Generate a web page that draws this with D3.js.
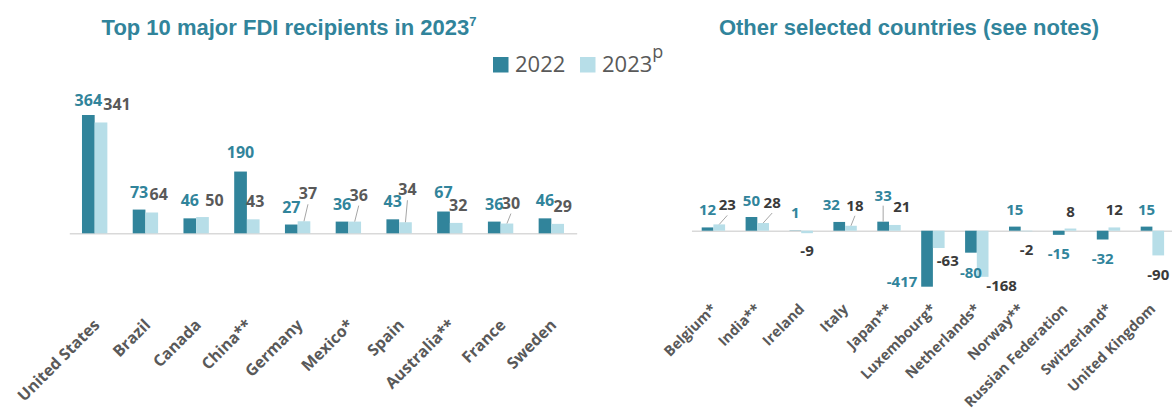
<!DOCTYPE html>
<html>
<head>
<meta charset="utf-8">
<script src="https://cdn.jsdelivr.net/npm/d3@7"></script>
<style>
    body { margin: 0; background: #fff; }
    svg text { font-family: "Open Sans", sans-serif; }
</style>
</head>
<body>
<div id="chartDiv"></div>
<script>
// series
const seriesKeys = ['2022', '2023'];

// left panel: top 10 recipients (USD billion)
const topCountries = ['United States', 'Brazil', 'Canada', 'China**', 'Germany', 'Mexico*', 'Spain', 'Australia**', 'France', 'Sweden'];
const top2022 = [364, 73, 46, 190, 27, 36, 43, 67, 36, 46];
const top2023 = [341, 64, 50, 43, 37, 36, 34, 32, 30, 29];

// right panel: other selected countries
const otherCountries = ['Belgium*', 'India**', 'Ireland', 'Italy', 'Japan**', 'Luxembourg*', 'Netherlands*', 'Norway**', 'Russian Federation', 'Switzerland*', 'United Kingdom'];
const other2022 = [12, 50, 1, 32, 33, -417, -80, 15, -15, -32, 15];
const other2023 = [23, 28, -9, 18, 21, -63, -168, -2, 8, 12, -90];

// labels that were dragged by hand in the original: [dx, dy, leader line]
const topNudge2022 = [[0, 3], [0, 0], [0, 0], [0, -2], [0, 0], [0, 0], [0, 0], [0, -2], [0, 0], [0, 0]];
const topNudge2023 = [[16, 0], [7, -1], [12, 1], [2, 0], [4, -10, 1], [4, -9, 1], [2, -15, 1], [2, 0], [4, -3, 1], [5, 0]];
const otherNudge2022 = [[0, 0], [0, 1], [0, 0], [-8, 0], [0, -9, 1], [-25, -24], [0, 1], [0, 0], [0, 0], [0, 0], [0, 0]];
const otherNudge2023 = [[8, -2, 1], [9, -3, 1], [0, -1], [4, -3, 1], [7, -1], [9, -6], [19, -10], [0, 0], [0, 0], [0, 0], [0, 1]];

const colors = {'2022': '#31849b', '2023': '#b7dee8'};
const teal = '#31849b';

const width = 1172, height = 410;

let svg = d3.select('#chartDiv').append('svg')
    .attr('width', width)
    .attr('height', height);

function drawPanel(opt) {
    let g = svg.append('g');

    let x0 = d3.scaleBand()
        .domain(opt.cats)
        .range(opt.xRange);

    let x1 = d3.scaleBand()
        .domain(seriesKeys)
        .range([0, x0.bandwidth()])
        .paddingOuter(opt.outer);

    let y = d3.scaleLinear()
        .domain(opt.yDomain)
        .range(opt.yRange)
        .clamp(true);

    let rows = opt.cats.map((c, i) => ({
        name: c,
        values: [
            {key: '2022', value: opt.v2022[i], nudge: opt.n2022[i]},
            {key: '2023', value: opt.v2023[i], nudge: opt.n2023[i]}
        ]
    }));

    // baseline
    g.append('g')
        .attr('transform', `translate(0, ${y(0)})`)
        .call(d3.axisBottom(x0).tickSize(0).tickFormat(''))
        .call(a => a.select('.domain').attr('stroke', '#d9d9d9').attr('stroke-width', 1.5));

    let cat = g.selectAll('g.cat')
        .data(rows)
        .enter()
        .append('g')
        .attr('class', 'cat')
        .attr('transform', d => `translate(${x0(d.name)}, 0)`);

    cat.selectAll('rect')
        .data(d => d.values)
        .enter()
        .append('rect')
        .attr('x', d => x1(d.key))
        .attr('width', x1.bandwidth())
        .attr('y', d => Math.min(y(d.value), y(0)))
        .attr('height', d => Math.abs(y(d.value) - y(0)))
        .style('fill', d => colors[d.key]);

    // value labels
    const lx = d => x1(d.key) + x1.bandwidth() / 2 + d.nudge[0];
    const ly = d => (d.value >= 0 ? y(d.value) - 12 : y(d.value) + opt.negGap) + d.nudge[1];

    cat.selectAll('line.leader')
        .data(d => d.values.filter(v => v.nudge[2]))
        .enter()
        .append('line')
        .attr('class', 'leader')
        .attr('x1', d => x1(d.key) + x1.bandwidth() / 2)
        .attr('y1', d => y(d.value))
        .attr('x2', lx)
        .attr('y2', d => ly(d) + 5)
        .attr('stroke', '#a6a6a6')
        .attr('stroke-width', 1);

    cat.selectAll('text.valueLabel')
        .data(d => d.values)
        .enter()
        .append('text')
        .attr('class', 'valueLabel')
        .attr('x', lx)
        .attr('y', ly)
        .style('text-anchor', 'middle')
        .style('font-size', opt.valueSize + 'px')
        .style('font-weight', 700)
        .style('fill', d => d.key === '2022' ? teal : opt.valueGrey)
        .text(d => d.value);

    // category labels, rotated
    g.selectAll('text.label')
        .data(opt.cats)
        .enter()
        .append('text')
        .attr('class', 'label')
        .attr('transform', d => `translate(${x0(d) + x0.bandwidth() / 2 + opt.labelDx}, ${opt.labelY}) rotate(-45)`)
        .style('text-anchor', 'end')
        .style('font-size', opt.labelSize + 'px')
        .style('font-weight', 700)
        .style('fill', '#595959')
        .text(d => d);

    // title
    let title = g.append('text')
        .attr('x', opt.titleX)
        .attr('y', 35)
        .style('text-anchor', 'middle')
        .style('font-family', '"Liberation Sans", Arial, sans-serif')
        .style('font-size', '22px')
        .style('font-weight', 700)
        .style('fill', teal)
        .text(opt.title);
    if (opt.titleSup) {
        title.append('tspan')
            .attr('dy', -9)
            .style('font-size', '13px')
            .text(opt.titleSup);
    }
}

drawPanel({
    cats: topCountries, v2022: top2022, v2023: top2023,
    n2022: topNudge2022, n2023: topNudge2023,
    xRange: [69.3, 576.7], outer: 1,
    yDomain: [0, 400], yRange: [233.3, 103.3],
    valueSize: 16, valueGrey: '#595959', negGap: 24,
    labelDx: 6, labelY: 326, labelSize: 16,
    title: 'Top 10 major FDI recipients in 2023', titleSup: '7', titleX: 289
});

drawPanel({
    cats: otherCountries, v2022: other2022, v2023: other2023,
    n2022: otherNudge2022, n2023: otherNudge2023,
    xRange: [691.45, 1174.35], outer: 0.876,
    yDomain: [-204, 60], yRange: [286.7, 214.26],
    valueSize: 15, valueGrey: '#3a3a3a', negGap: 24,
    labelDx: 4, labelY: 310, labelSize: 14.5,
    title: 'Other selected countries (see notes)', titleSup: null, titleX: 909
});

// legend
let legend = svg.append('g').attr('transform', 'translate(493, 0)');
let items = [
    {key: '2022', text: '2022', sup: null, x: 0},
    {key: '2023', text: '2023', sup: 'p', x: 87}
];
let li = legend.selectAll('g')
    .data(items)
    .enter()
    .append('g')
    .attr('transform', d => `translate(${d.x}, 0)`);
li.append('rect')
    .attr('y', 57)
    .attr('width', 15.5)
    .attr('height', 15.5)
    .style('fill', d => colors[d.key]);
let lt = li.append('text')
    .attr('x', 22)
    .attr('y', 72)
    .style('font-size', '22px')
    .style('fill', '#595959')
    .text(d => d.text);
lt.filter(d => d.sup)
    .append('tspan')
    .attr('dy', -14)
    .style('font-size', '18px')
    .text(d => d.sup);
</script>
</body>
</html>
